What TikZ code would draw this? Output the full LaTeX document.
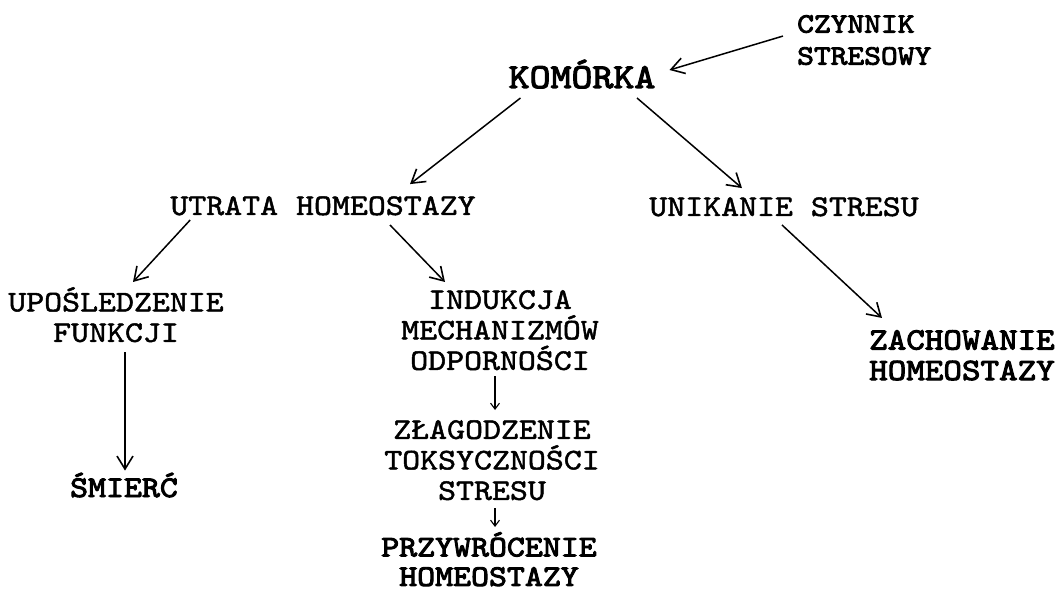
\documentclass[tikz,border=0pt]{standalone}
\usepackage{fontspec}
\newfontfamily\courreg{lmmono10-regular.otf}[FakeStretch=1.14, FakeBold=1.6]
\newfontfamily\courbold{lmmono10-regular.otf}[FakeStretch=1.14, FakeBold=3.2]
\usetikzlibrary{arrows.meta,calc}
\begin{document}
\begin{tikzpicture}[x=1pt,y=-1pt,
  lbl/.style={inner sep=0pt, font=\courreg\fontsize{30}{30.5}\selectfont, align=center},
  blbl/.style={inner sep=0pt, font=\courbold\fontsize{30}{30.5}\selectfont, align=center},
  arr/.style={-{Straight Barb[length=13pt,width=16pt,line width=1.6pt]}, line width=1.5pt},
  sarr/.style={-{Straight Barb[length=6pt,width=9pt]}, line width=1.1pt}]
\useasboundingbox[fill=white] (0,0) rectangle (1060,593);

\node[blbl, align=left, anchor=north west, font=\courbold\fontsize{28}{32}\selectfont] (czynnik) at (797,15) {CZYNNIK\\STRESOWY};
\node[blbl, anchor=base, font=\courbold\fontsize{35}{36}\selectfont] (komorka) at (582,88) {KOMÓRKA};
\node[lbl, anchor=base] (utrata) at (323,215) {UTRATA HOMEOSTAZY};
\node[lbl, anchor=base] (unikanie) at (784,216) {UNIKANIE STRESU};
\node[lbl, anchor=north] (uposl) at (116,287) {UPOŚLEDZENIE\\FUNKCJI};
\node[blbl, anchor=base] (smierc) at (124,497) {ŚMIERĆ};
\node[lbl, anchor=north] (indukcja) at (500,290) {INDUKCJA\\MECHANIZMÓW\\ODPORNOŚCI};
\node[lbl, anchor=north] (zlag) at (492,420) {ZŁAGODZENIE\\TOKSYCZNOŚCI\\STRESU};
\node[blbl, anchor=north, font=\courbold\fontsize{30}{29.5}\selectfont] (przyw) at (489,532) {PRZYWRÓCENIE\\HOMEOSTAZY};
\node[blbl, align=left, anchor=north west, font=\courbold\fontsize{31}{30.5}\selectfont] (zach) at (869,330) {ZACHOWANIE\\HOMEOSTAZY};

\draw[arr] ($(czynnik.west)+(-14,-4)$) -- ($(komorka.base east)+(14,-18)$);
\draw[arr] ($(komorka.base west)+(12,10)$) -- ($(utrata.north)+(87,-12)$);
\draw[arr] ($(komorka.base)+(55,10)$) -- ($(unikanie.north)+(-42,-9)$);
\draw[arr] ($(utrata.base west)+(20,5)$) -- ($(uposl.north)+(17,-5)$);
\draw[arr] ($(utrata.base)+(67,10)$) -- ($(indukcja.north)+(-55,-8)$);
\draw[arr] ($(unikanie.base)+(-2,9)$) -- ($(zach.north west)+(13,-12)$);
\draw[arr] ($(uposl.south)+(9,10)$) -- ($(smierc.north)+(1,-2)$);
\draw[sarr] ($(indukcja.south)+(-5,6)$) -- ($(zlag.north)+(3,-10)$);
\draw[sarr] ($(zlag.south)+(3,8)$) -- ($(przyw.north)+(6,-5)$);
\end{tikzpicture}
\end{document}
